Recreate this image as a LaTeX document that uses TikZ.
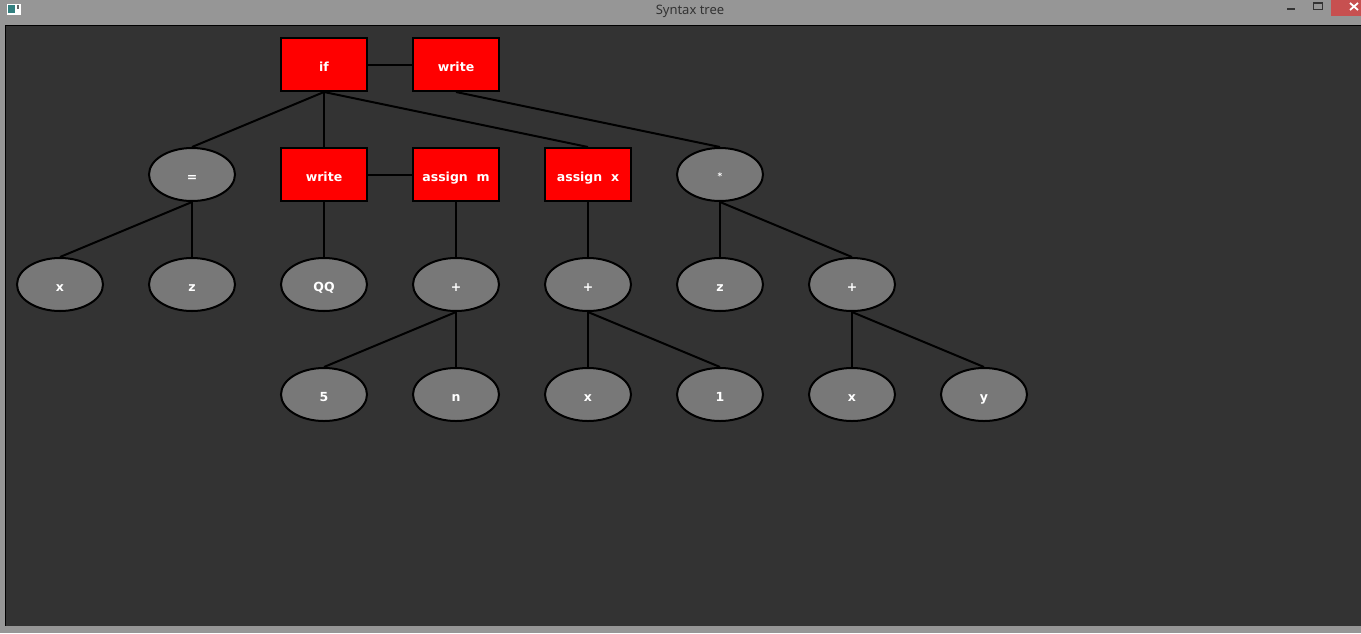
\documentclass[tikz,border=0pt]{standalone}
\usepackage{fontspec}
\setmainfont{DejaVu Sans}
\newfontfamily\titlefont{Noto Sans}
\usetikzlibrary{shapes.geometric}
\definecolor{frame}{HTML}{969696}
\definecolor{canvas}{HTML}{333333}
\definecolor{nodegray}{HTML}{787878}
\definecolor{closered}{HTML}{C75050}
\tikzset{
  px/.style={x=1pt,y=-1pt},
  nodefont/.style={text=white,font=\bfseries\fontsize{12.5}{14}\selectfont,text height=13pt,text depth=0pt},
  stmt/.style={rectangle,draw=black,line width=2pt,fill=red,minimum width=86pt,minimum height=53pt,inner sep=0pt,nodefont},
  expr/.style={ellipse,draw=black,line width=2pt,fill=nodegray,minimum width=86pt,minimum height=53pt,inner sep=0pt,nodefont},
  edge/.style={draw=black,line width=2pt}
}
\begin{document}
\begin{tikzpicture}[px]
\useasboundingbox (0,0) rectangle (1361,633);
% window frame
\fill[frame] (0,0) rectangle (1361,633);
\fill[canvas] (5,25) rectangle (1361,626);
\draw[black,line width=1pt] (5,625.5) -- (5,25.5) -- (1361,25.5);
% title bar
\node[font=\titlefont\fontsize{13}{15}\selectfont,text=canvas] (title) at (690,11) {Syntax tree};
\fill[white] (7,4) rectangle (21,15);
\fill[teal!60!gray] (8,5) rectangle (15,13);
\fill[black!60] (17,5) rectangle (18.5,9);
\fill[black!80] (1287,8) rectangle (1295,10);
\draw[black!80,line width=1pt] (1313.5,2.5) rectangle (1322.5,9.5);
\fill[black!80] (1313,2) rectangle (1323,4);
\fill[closered] (1331,0) rectangle (1361,16);
\draw[white,line width=1.8pt] (1350,3) -- (1358,10) (1350,10) -- (1358,3);
% row 1
\node[stmt] (if) at (324,64.5) {if};
\node[stmt] (write1) at (456,64.5) {write};
% row 2
\node[expr] (eq) at (192,174.5) {=};
\node[stmt] (write2) at (324,174.5) {write};
\node[stmt] (assignm) at (456,174.5) {assign\ \ m};
\node[stmt] (assignx) at (588,174.5) {assign\ \ x};
\node[expr] (mul) at (720,174.5) {\raisebox{2pt}{\fontsize{9}{10}\selectfont *}};
% row 3
\node[expr] (x1) at (60,284.5) {x};
\node[expr] (z1) at (192,284.5) {z};
\node[expr] (qq) at (324,284.5) {QQ};
\node[expr] (plus1) at (456,284.5) {+};
\node[expr] (plus2) at (588,284.5) {+};
\node[expr] (z2) at (720,284.5) {z};
\node[expr] (plus3) at (852,284.5) {+};
% row 4
\node[expr] (five) at (324,394.5) {5};
\node[expr] (n) at (456,394.5) {n};
\node[expr] (x2) at (588,394.5) {x};
\node[expr] (one) at (720,394.5) {1};
\node[expr] (x3) at (852,394.5) {x};
\node[expr] (y) at (984,394.5) {y};
% edges
\path[edge] (if.east) -- (write1.west);
\path[edge] (write2.east) -- (assignm.west);
\path[edge] (if.south) -- (eq.north);
\path[edge] (if.south) -- (write2.north);
\path[edge] (if.south) -- (assignx.north);
\path[edge] (write1.south) -- (mul.north);
\path[edge] (eq.south) -- (x1.north);
\path[edge] (eq.south) -- (z1.north);
\path[edge] (write2.south) -- (qq.north);
\path[edge] (assignm.south) -- (plus1.north);
\path[edge] (assignx.south) -- (plus2.north);
\path[edge] (mul.south) -- (z2.north);
\path[edge] (mul.south) -- (plus3.north);
\path[edge] (plus1.south) -- (five.north);
\path[edge] (plus1.south) -- (n.north);
\path[edge] (plus2.south) -- (x2.north);
\path[edge] (plus2.south) -- (one.north);
\path[edge] (plus3.south) -- (x3.north);
\path[edge] (plus3.south) -- (y.north);
\end{tikzpicture}
\end{document}
